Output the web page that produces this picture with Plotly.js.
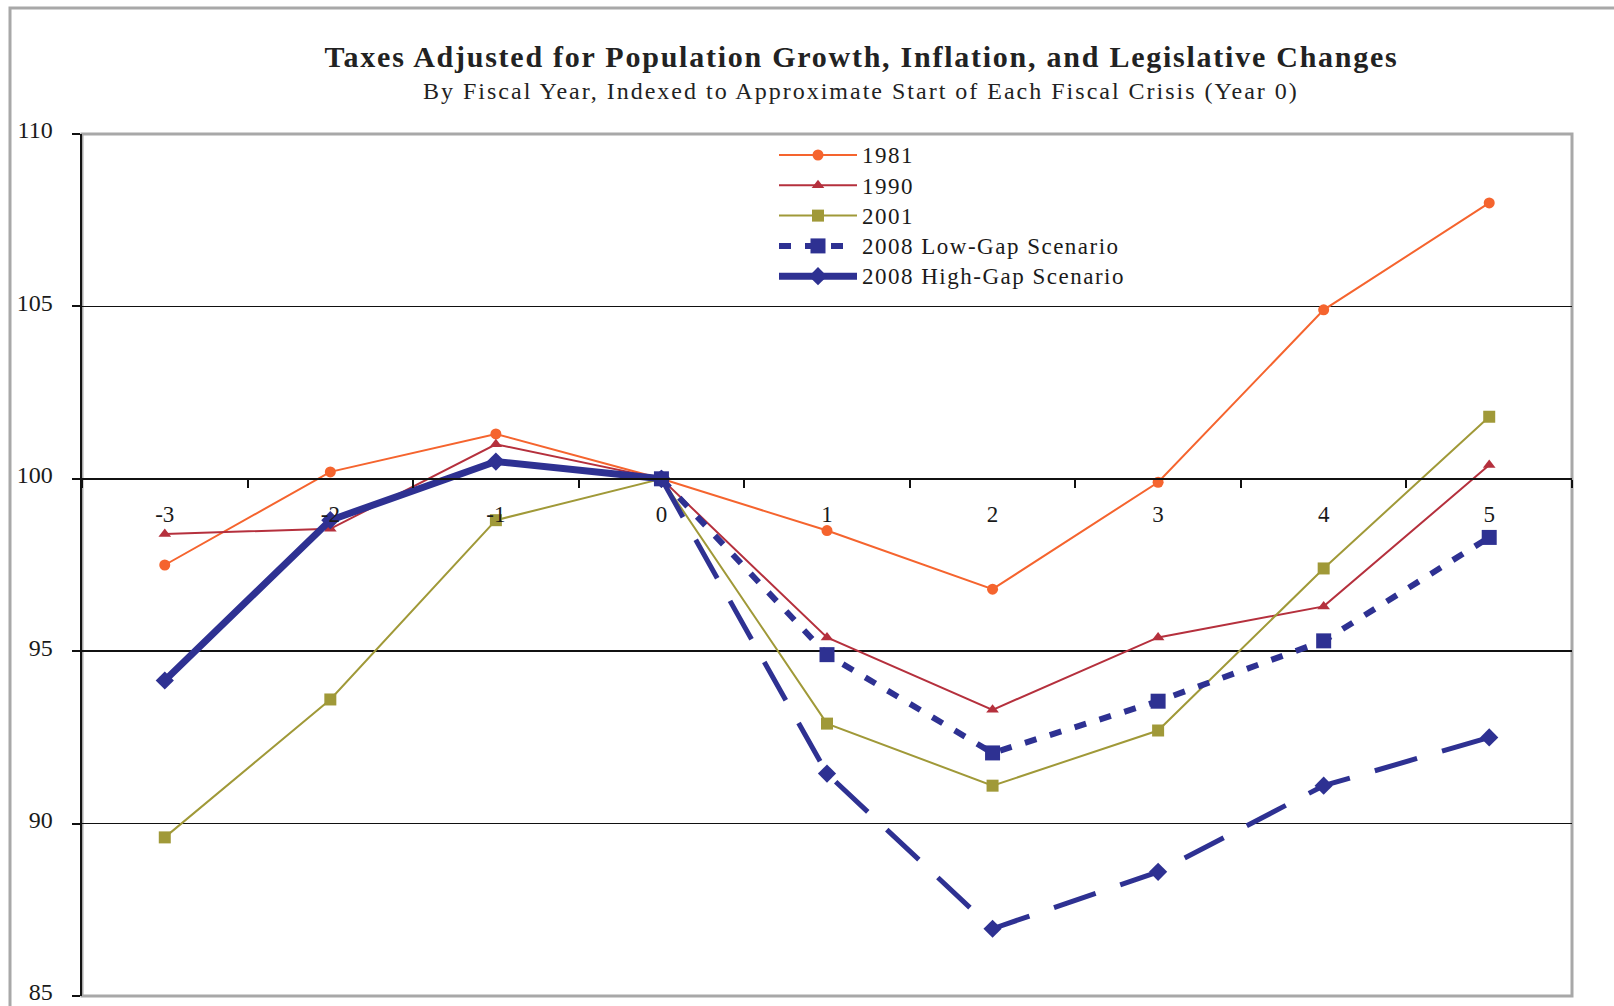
<!DOCTYPE html>
<html>
<head>
<meta charset="utf-8">
<script src="https://cdn.plot.ly/plotly-3.0.1.min.js"></script>
<style>
  html, body { margin: 0; padding: 0; background: #fff; }
  #chart { width: 1614px; height: 1006px; }
  #chart text.gtitle { letter-spacing: 1.75px; }
  #chart text.annotation-text { letter-spacing: 2px; }
  #chart g.legend g.scrollbox { clip-path: none !important; }
  #chart text.legendtext { font-size: 23px !important; letter-spacing: 1.5px; }
</style>
</head>
<body>
<div id="chart"></div>
<script>
// ---- Data ----
const years = ["-3", "-2", "-1", "0", "1", "2", "3", "4", "5"];
const s1981 = [97.5, 100.2, 101.3, 100.0, 98.5, 96.8, 99.9, 104.9, 108.0];
const s1990 = [98.4, 98.55, 101.0, 100.0, 95.4, 93.3, 95.4, 96.3, 100.4];
const s2001 = [89.6, 93.6, 98.8, 100.0, 92.9, 91.1, 92.7, 97.4, 101.8];
const histYears = ["-3", "-2", "-1", "0"];
const hist2008 = [94.15, 98.8, 100.5, 100.0];
const projYears = ["0", "1", "2", "3", "4", "5"];
const lowGap2008 = [100.0, 94.9, 92.05, 93.55, 95.3, 98.3];
const highGap2008 = [100.0, 91.45, 86.95, 88.6, 91.1, 92.5];
const yTicks = [85, 90, 95, 100, 105, 110];

const titleText = "Taxes Adjusted for Population Growth, Inflation, and Legislative Changes";
const subtitleText = "By Fiscal Year, Indexed to Approximate Start of Each Fiscal Crisis (Year 0)";

const serif = "'Liberation Serif', 'Times New Roman', serif";
const navy = "#2E3192";

const traces = [
  {
    x: years, y: s1981, name: "1981", type: "scatter", mode: "lines+markers",
    line: { color: "#F5642E", width: 2 },
    marker: { symbol: "circle", size: 11, color: "#F5642E" }
  },
  {
    x: years, y: s1990, name: "1990", type: "scatter", mode: "lines+markers",
    line: { color: "#B5303D", width: 2 },
    marker: { symbol: "triangle-up", size: 11, color: "#B5303D" }
  },
  {
    x: years, y: s2001, name: "2001", type: "scatter", mode: "lines+markers",
    line: { color: "#A09938", width: 2 },
    marker: { symbol: "square", size: 12, color: "#A09938" }
  },
  {
    x: projYears, y: lowGap2008, name: "2008 Low-Gap Scenario", type: "scatter", mode: "lines+markers",
    line: { color: navy, width: 6, dash: "12px,14px" },
    marker: { symbol: "square", size: 15, color: navy }
  },
  {
    x: histYears, y: hist2008, name: "2008 High-Gap Scenario", type: "scatter", mode: "lines+markers",
    legendgroup: "high",
    line: { color: navy, width: 7 },
    marker: { symbol: "diamond", size: 14, color: navy }
  },
  {
    x: projYears, y: highGap2008, name: "2008 High-Gap Scenario", type: "scatter", mode: "lines+markers",
    legendgroup: "high", showlegend: false,
    line: { color: navy, width: 5, dash: "44px,26px" },
    marker: { symbol: "diamond", size: 14, color: navy }
  }
];

const layout = {
  width: 1614, height: 1006,
  paper_bgcolor: "#ffffff", plot_bgcolor: "#ffffff",
  margin: { l: 82, r: 42, t: 134, b: 10 },
  font: { family: serif, color: "#1a1a1a", size: 22 },
  title: {
    text: "<b>" + titleText + "</b>",
    font: { family: serif, size: 30, color: "#222222" },
    x: 0.5338, xanchor: "center", xref: "container",
    y: 1 - 56.6 / 1006, yanchor: "middle", yref: "container"
  },
  annotations: [
    {
      text: subtitleText, xref: "paper", yref: "paper",
      x: 0.523, y: (996 - 90.6) / 862, xanchor: "center", yanchor: "middle",
      showarrow: false, font: { family: serif, size: 24, color: "#222222" }
    }
  ],
  xaxis: {
    type: "category",
    categoryorder: "array", categoryarray: years,
    range: [-0.5, 8.5],
    anchor: "free", position: 0.6,
    showline: true, linecolor: "#111111", linewidth: 2,
    ticks: "outside", tickson: "boundaries", ticklen: 8, tickwidth: 2, tickcolor: "#111111",
    ticklabelstandoff: 15,
    showgrid: false, zeroline: false,
    tickfont: { family: serif, size: 23, color: "#1a1a1a" }
  },
  yaxis: {
    range: [85, 110],
    tickvals: yTicks, ticktext: yTicks.map(String),
    showline: true, linecolor: "#111111", linewidth: 2.5,
    ticks: "outside", ticklen: 8, tickwidth: 2, tickcolor: "#111111",
    ticklabelstandoff: 14,
    ticklabelshift: -4,
    ticklabeloverflow: "allow",
    showgrid: true, gridcolor: "#111111", gridwidth: 1.6,
    zeroline: false,
    tickfont: { family: serif, size: 24, color: "#1a1a1a" }
  },
  shapes: [
    {
      type: "rect", xref: "paper", yref: "paper", x0: 0, x1: 1, y0: 0, y1: 1,
      line: { color: "#A8A8A8", width: 3 }, fillcolor: "rgba(0,0,0,0)", layer: "between"
    },
    {
      type: "rect", xref: "paper", yref: "paper",
      x0: (10 - 82) / 1490, x1: 1.1, y0: -0.1, y1: (996 - 8) / 862,
      line: { color: "#A8A8A8", width: 3 }, fillcolor: "rgba(0,0,0,0)", layer: "below"
    }
  ],
  legend: {
    x: (774 - 82) / 1490, xanchor: "left",
    y: 0.999, yanchor: "top",
    bgcolor: "rgba(255,255,255,0)",
    font: { family: serif, size: 21, color: "#1a1a1a" },
    itemwidth: 78,
    tracegroupgap: 0,
    traceorder: "normal"
  },
  showlegend: true
};

Plotly.newPlot("chart", traces, layout, { displayModeBar: false, staticPlot: true });
</script>
</body>
</html>
